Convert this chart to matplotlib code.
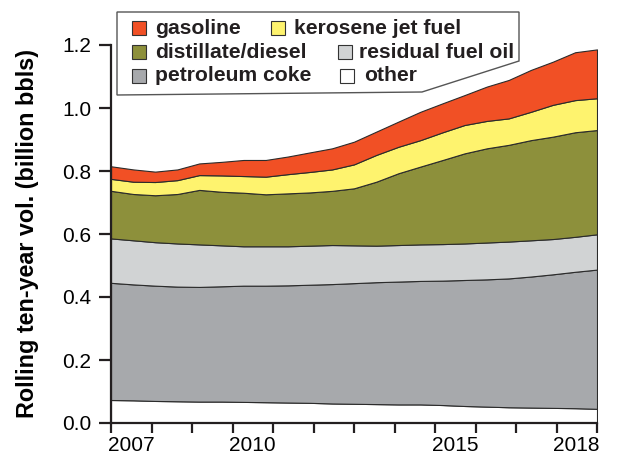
import numpy as np
import matplotlib.pyplot as plt
from matplotlib.patches import Polygon, Rectangle

plt.rcParams['font.family'] = ['Liberation Sans', 'DejaVu Sans']

# decimal year of each reading (Jan 2007 .. end of 2018)
years = [2007.0, 2007.55, 2008.09, 2008.64, 2009.18, 2009.73, 2010.27, 2010.82,
         2011.37, 2011.91, 2012.46, 2013.0, 2013.55, 2014.1, 2014.64, 2015.19,
         2015.73, 2016.28, 2016.82, 2017.37, 2017.91, 2018.46, 2019.0]

# layer thickness, billion bbls (bottom to top)
other = [0.073, 0.072, 0.070, 0.069, 0.068, 0.068, 0.067, 0.066, 0.065, 0.064, 0.062, 0.061,
         0.060, 0.059, 0.059, 0.057, 0.054, 0.052, 0.050, 0.049, 0.048, 0.047, 0.045]
pet_coke = [0.372, 0.368, 0.366, 0.364, 0.364, 0.366, 0.369, 0.370, 0.372, 0.375, 0.379, 0.383,
            0.387, 0.390, 0.392, 0.395, 0.400, 0.404, 0.409, 0.416, 0.424, 0.433, 0.442]
residual = [0.141, 0.140, 0.138, 0.137, 0.135, 0.130, 0.125, 0.125, 0.124, 0.124, 0.124, 0.120,
            0.116, 0.116, 0.116, 0.116, 0.116, 0.117, 0.117, 0.115, 0.112, 0.111, 0.112]
distillate = [0.151, 0.147, 0.149, 0.157, 0.173, 0.170, 0.170, 0.165, 0.168, 0.169, 0.172, 0.181,
              0.203, 0.228, 0.247, 0.267, 0.286, 0.299, 0.307, 0.318, 0.325, 0.332, 0.331]
kerosene = [0.038, 0.039, 0.042, 0.044, 0.047, 0.052, 0.053, 0.056, 0.061, 0.065, 0.068, 0.076,
            0.085, 0.084, 0.084, 0.088, 0.090, 0.087, 0.084, 0.090, 0.101, 0.102, 0.101]
gasoline = [0.040, 0.039, 0.033, 0.034, 0.037, 0.043, 0.051, 0.053, 0.056, 0.062, 0.067, 0.072,
            0.074, 0.080, 0.090, 0.092, 0.095, 0.109, 0.122, 0.133, 0.137, 0.152, 0.155]

colors = ['#ffffff', '#a7a9ac', '#d1d3d4', '#8d903b', '#fef36e', '#f15025']
labels = ['other', 'petroleum coke', 'residual fuel oil', 'distillate/diesel',
          'kerosene jet fuel', 'gasoline']

W, H = 617, 457
fig = plt.figure(figsize=(W / 100, H / 100), dpi=100)
ax = fig.add_axes([111 / W, 1 - 423 / H, 486 / W, 378 / H])

ax.stackplot(years, other, pet_coke, residual, distillate, kerosene, gasoline,
             colors=colors, edgecolor='#2b2b2b', linewidth=0.8)

ax.set_xlim(2007, 2019)
ax.set_ylim(0, 1.2)
for s in ['top', 'right']:
    ax.spines[s].set_visible(False)
for s in ['left', 'bottom']:
    ax.spines[s].set_linewidth(1.6)
    ax.spines[s].set_color('#231f20')

# year boundaries as ticks, labels centred in the year
ax.set_xticks(np.arange(2007, 2020))
ax.set_xticklabels([])
ax.set_xticks([2007.5, 2010.5, 2015.5, 2018.5], minor=True)
ax.set_xticklabels(['2007', '2010', '2015', '2018'], minor=True)
ax.tick_params(axis='x', which='major', length=7.5, width=1.6, direction='out', color='#231f20')
ax.tick_params(axis='x', which='minor', length=0, pad=9.5, labelsize=15)

ax.set_yticks(np.arange(0, 1.21, 0.2))
ax.set_yticklabels([f'{v:.1f}' for v in np.arange(0, 1.21, 0.2)])
ax.tick_params(axis='y', length=9, width=1.6, pad=5, labelsize=15, color='#231f20')
ax.set_ylabel('Rolling ten-year vol. (billion bbls)', fontsize=16.8, fontweight='bold',
              labelpad=17)


def fx(px):
    return px / W


def fy(py):
    return 1 - py / H


# legend box with slanted corner
box = [(117, 12), (519, 12), (519, 61), (422, 92), (117, 95)]
fig.add_artist(Polygon([(fx(a), fy(b)) for a, b in box], closed=True, facecolor='white',
                       edgecolor='#555555', linewidth=1.0, transform=fig.transFigure))

entries = [('gasoline', 5, 139, 28, 155), ('kerosene jet fuel', 4, 278, 28, 294),
           ('distillate/diesel', 3, 139, 52, 155), ('residual fuel oil', 2, 345, 52, 359),
           ('petroleum coke', 1, 139, 76, 155), ('other', 0, 347, 76, 364)]
sw = 14
for text, ci, sx, sy, tx in entries:
    fig.add_artist(Rectangle((fx(sx - sw / 2), fy(sy + sw / 2)), sw / W, sw / H,
                             facecolor=colors[ci], edgecolor='#333333', linewidth=0.8,
                             transform=fig.transFigure))
    fig.text(fx(tx), fy(sy), text, fontsize=15.2, fontweight='bold', va='center', ha='left',
             color='#231f20')

fig.savefig('out.png', dpi=100)
